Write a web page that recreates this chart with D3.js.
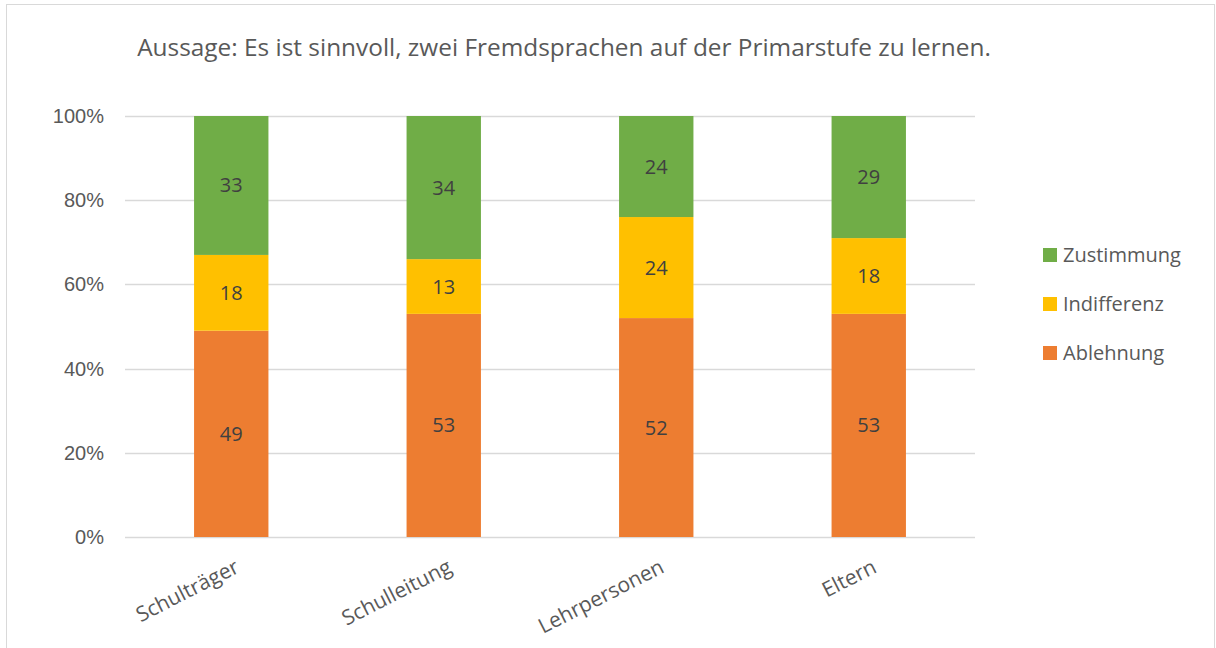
<!DOCTYPE html>
<html>
<head>
<meta charset="utf-8">
<script src="https://cdn.jsdelivr.net/npm/d3@7"></script>
<style>
  html, body { margin: 0; padding: 0; background: #fff; }
  svg { display: block; font-family: "Open Sans", "Noto Sans", sans-serif; }
</style>
</head>
<body>
<svg id="chart" width="1216" height="648"></svg>
<script>
// Daten
var categories = ['Schulträger', 'Schulleitung', 'Lehrpersonen', 'Eltern']
var ablehnung = [49, 53, 52, 53]
var indifferenz = [18, 13, 24, 18]
var zustimmung = [33, 34, 24, 29]
var yTicks = [0, 0.2, 0.4, 0.6, 0.8, 1]
var seriesNames = ['Ablehnung', 'Indifferenz', 'Zustimmung']
var seriesColors = ['#ed7d31', '#ffc000', '#70ad47']
var titleText = 'Aussage: Es ist sinnvoll, zwei Fremdsprachen auf der Primarstufe zu lernen.'

var svg = d3.select('#chart')

// Rahmen
svg.append('rect')
  .attr('x', 6.5).attr('y', 4.5)
  .attr('width', 1208).attr('height', 660)
  .attr('fill', 'none').attr('stroke', '#d9d9d9')

var plotLeft = 125, plotRight = 975, plotTop = 116, plotBottom = 537

var x = d3.scaleBand().domain(categories).range([plotLeft, plotRight]).paddingInner(0.65).paddingOuter(0.325)
var y = d3.scaleLinear().domain([0, 1]).range([plotBottom, plotTop])

// Stapel-Daten
var rows = categories.map(function (c, i) {
  var total = ablehnung[i] + indifferenz[i] + zustimmung[i]
  return { cat: c, Ablehnung: ablehnung[i] / total, Indifferenz: indifferenz[i] / total, Zustimmung: zustimmung[i] / total,
    raw: { Ablehnung: ablehnung[i], Indifferenz: indifferenz[i], Zustimmung: zustimmung[i] } }
})
var stacked = d3.stack().keys(seriesNames)(rows)

// Gitterlinien
svg.append('g')
  .selectAll('line')
  .data(yTicks)
  .join('line')
  .attr('x1', plotLeft).attr('x2', plotRight)
  .attr('y1', function (d) { return Math.round(y(d)) + 0.5 })
  .attr('y2', function (d) { return Math.round(y(d)) + 0.5 })
  .attr('stroke', '#d9d9d9').attr('stroke-width', 1.3)

// y-Achse Beschriftung
var yAxis = svg.append('g')
  .attr('transform', 'translate(' + (plotLeft - 21) + ',0)')
  .call(d3.axisLeft(y).tickValues(yTicks).tickFormat(d3.format('.0%')).tickSize(0).tickPadding(0))
yAxis.select('.domain').remove()
yAxis.selectAll('text').attr('fill', '#595959').style('font-size', '20px').attr('font-family', null)

// Balken
var layers = svg.append('g')
  .selectAll('g')
  .data(stacked)
  .join('g')
  .attr('fill', function (d, i) { return seriesColors[i] })

layers.selectAll('rect')
  .data(function (d) { return d })
  .join('rect')
  .attr('x', function (d) { return x(d.data.cat) })
  .attr('width', x.bandwidth())
  .attr('y', function (d) { return y(d[1]) })
  .attr('height', function (d) { return y(d[0]) - y(d[1]) })

// Datenbeschriftungen
layers.each(function (layer) {
  d3.select(this).selectAll('text')
    .data(layer)
    .join('text')
    .attr('x', function (d) { return x(d.data.cat) + x.bandwidth() / 2 })
    .attr('y', function (d) { return (y(d[0]) + y(d[1])) / 2 })
    .attr('dy', '0.35em')
    .attr('text-anchor', 'middle')
    .attr('fill', '#404040')
    .style('font-size', '20px')
    .text(function (d) { return d.data.raw[layer.key] })
})

// x-Achse Beschriftung
svg.append('g')
  .selectAll('text')
  .data(categories)
  .join('text')
  .attr('transform', function (d) {
    return 'translate(' + (x(d) + x.bandwidth() / 2 + 6) + ',' + (plotBottom + 28) + ') rotate(-27)'
  })
  .attr('text-anchor', 'end')
  .attr('dy', '0.35em')
  .attr('fill', '#595959')
  .style('font-size', '21px')
  .text(function (d) { return d })

// Titel
svg.append('text')
  .attr('x', 564).attr('y', 47)
  .attr('dy', '0.35em')
  .attr('text-anchor', 'middle')
  .attr('fill', '#595959')
  .style('font-size', '24.4px')
  .text(titleText)

// Legende
var legendItems = seriesNames.slice().reverse()
var legendColors = seriesColors.slice().reverse()
var legend = svg.append('g')
  .selectAll('g')
  .data(legendItems)
  .join('g')
  .attr('transform', function (d, i) { return 'translate(1043,' + (255 + i * 49) + ')' })
legend.append('rect')
  .attr('x', 0).attr('y', -7).attr('width', 14).attr('height', 14)
  .attr('fill', function (d, i) { return legendColors[i] })
legend.append('text')
  .attr('x', 20).attr('dy', '0.35em')
  .attr('fill', '#595959')
  .style('font-size', '20px')
  .text(function (d) { return d })
</script>
</body>
</html>
